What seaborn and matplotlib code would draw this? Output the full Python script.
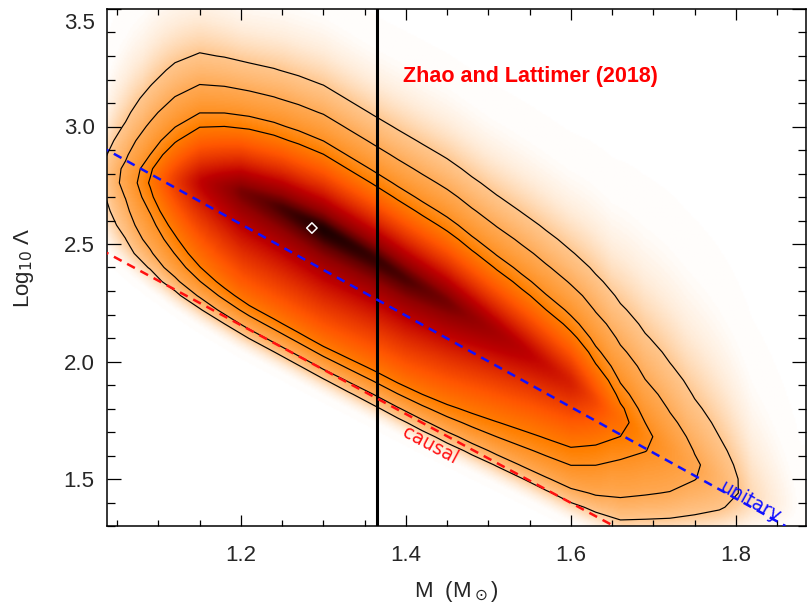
import numpy as np
import matplotlib
matplotlib.use("Agg")
import matplotlib.pyplot as plt
from matplotlib.ticker import MultipleLocator
from matplotlib.transforms import ScaledTranslation
import pandas as pd
import seaborn as sns

# Posterior band in the (M, log10 Lambda) plane, described per mass node
mass_nodes = [1.00, 1.04, 1.06, 1.08, 1.10, 1.15, 1.20, 1.25, 1.30, 1.365, 1.40,
              1.45, 1.50, 1.55, 1.60, 1.65, 1.69, 1.74, 1.78, 1.82, 1.88]
peak_density = [0.02, 0.07, 0.13, 0.21, 0.31, 0.62, 0.85, 0.94, 1.00, 0.96, 0.93,
                0.86, 0.74, 0.63, 0.53, 0.31, 0.21, 0.13, 0.09, 0.045, 0.015]
ridge_loglam = [2.80, 2.79, 2.78, 2.77, 2.77, 2.76, 2.72, 2.65, 2.56, 2.43, 2.35,
                2.25, 2.14, 2.03, 1.91, 1.78, 1.68, 1.57, 1.49, 1.42, 1.32]
upper_scale = [0.26, 0.26, 0.26, 0.25, 0.245, 0.22, 0.195, 0.20, 0.205, 0.205, 0.21,
               0.215, 0.22, 0.23, 0.24, 0.28, 0.32, 0.36, 0.38, 0.40, 0.40]
lower_scale = [0.34, 0.34, 0.34, 0.34, 0.34, 0.37, 0.39, 0.38, 0.37, 0.355, 0.35,
               0.34, 0.33, 0.325, 0.32, 0.33, 0.36, 0.40, 0.42, 0.45, 0.45]
contour_levels = [0.06, 0.11, 0.19, 0.25]

# colour stretch of the shaded density (density -> colormap position)
stretch_in = [0.0, 0.015, 0.03, 0.06, 0.11, 0.19, 0.25, 0.40, 0.60, 0.80, 0.90, 1.00]
stretch_out = [0.0, 0.008, 0.04, 0.115, 0.17, 0.22, 0.26, 0.36, 0.48, 0.62, 0.74, 0.92]

# Reference lines
causal_mass = [1.03, 1.66]
causal_loglam = [2.476, 1.285]
unitary_mass = [1.03, 1.86]
unitary_loglam = [2.915, 1.30]
mass_cut = 1.365
best_fit = (1.286, 2.568)


def density(M, L):
    amp = np.interp(M, mass_nodes, peak_density)
    ctr = np.interp(M, mass_nodes, ridge_loglam)
    lu = np.interp(M, mass_nodes, upper_scale)
    ll = np.interp(M, mass_nodes, lower_scale)
    d = L - ctr
    soft = 0.04
    dist = np.sqrt(d ** 2 + soft ** 2) - soft
    lam = np.where(d > 0, lu, ll)
    base = amp * np.exp(-dist / lam)
    edge = np.interp(M, causal_mass, causal_loglam) + 0.005
    cut = 1.0 / (1.0 + np.exp(-(L - edge) / 0.05))
    return base * cut


sns.set_style("ticks")
plt.rcParams["font.family"] = ["Liberation Sans", "DejaVu Sans"]
plt.rcParams["axes.linewidth"] = 1.1

fig = plt.figure(figsize=(8.08, 6.10), dpi=100)
ax = fig.add_axes([107 / 808, 1 - 526 / 610, 699 / 808, 517 / 610])

# smooth shaded density
mf = np.linspace(1.02, 1.90, 500)
lf = np.linspace(1.25, 3.55, 420)
MF, LF = np.meshgrid(mf, lf)
shade = np.interp(density(MF, LF), stretch_in, stretch_out)
ax.imshow(shade, extent=[mf[0], mf[-1], lf[0], lf[-1]], origin="lower",
          aspect="auto", cmap="gist_heat_r", vmin=0, vmax=1.0,
          interpolation="bilinear", zorder=0)

# contours traced on a coarse binning grid
mc = np.arange(1.00, 1.93, 0.03)
lc = np.arange(1.20, 3.62, 0.06)
MC, LC = np.meshgrid(mc, lc)
ax.contour(MC, LC, density(MC, LC), levels=contour_levels, colors="black",
           linewidths=0.85, zorder=2)

ax.axvline(mass_cut, color="black", lw=2.2, zorder=3)

lines = pd.DataFrame({
    "mass": causal_mass + unitary_mass,
    "loglam": causal_loglam + unitary_loglam,
    "kind": ["causal"] * 2 + ["unitary"] * 2,
})
sns.lineplot(data=lines, x="mass", y="loglam", hue="kind",
             palette={"causal": "#ff1010", "unitary": "#1010ff"},
             linestyle=(0, (3.5, 2.5)), linewidth=1.8, legend=False, ax=ax,
             zorder=4)

sns.scatterplot(x=[best_fit[0]], y=[best_fit[1]], marker="D", s=28,
                facecolor="none", edgecolor="white", linewidth=1.1, ax=ax,
                zorder=5)

ax.text(1.429, 1.645, "causal", color="#ff1010", fontsize=13.5, rotation=-28.2,
        ha="center", va="center", rotation_mode="anchor", family="DejaVu Sans")
ax.text(1.817, 1.402, "unitary", color="#1010ff", fontsize=13.5, rotation=-28.9,
        ha="center", va="center", rotation_mode="anchor", family="DejaVu Sans")
ax.text(1.396, 3.214, "Zhao and Lattimer (2018)", color="#ff0000", fontsize=15.5,
        fontweight="bold", ha="left", va="center")

ax.set_xlim(1.0376, 1.885)
ax.set_ylim(1.3, 3.5)
ax.set_xticks([1.2, 1.4, 1.6, 1.8])
ax.set_yticks([1.5, 2.0, 2.5, 3.0, 3.5])
ax.xaxis.set_minor_locator(MultipleLocator(0.05))
ax.yaxis.set_minor_locator(MultipleLocator(0.1))
ax.tick_params(which="both", direction="in", top=True, right=True,
               width=0.9, labelsize=16, color="black")
ax.tick_params(axis="x", which="major", length=8, pad=14)
ax.tick_params(axis="x", which="minor", length=4.5)
ax.tick_params(axis="y", which="major", length=10, pad=9)
ax.tick_params(axis="y", which="minor", length=5.8)

ax.set_xlabel("M  (M$_\\odot$)", fontsize=16, labelpad=9)
ax.set_ylabel("Log$_{10}$ Λ", fontsize=16, labelpad=20)
for sp in ax.spines.values():
    sp.set_visible(True)
    sp.set_color("black")

# keep the topmost y label inside the canvas
fig.canvas.draw()
top_label = ax.yaxis.get_majorticklabels()[-1]
top_label.set_transform(top_label.get_transform()
                        + ScaledTranslation(0, -0.12, fig.dpi_scale_trans))

fig.savefig("out.png", dpi=100)
